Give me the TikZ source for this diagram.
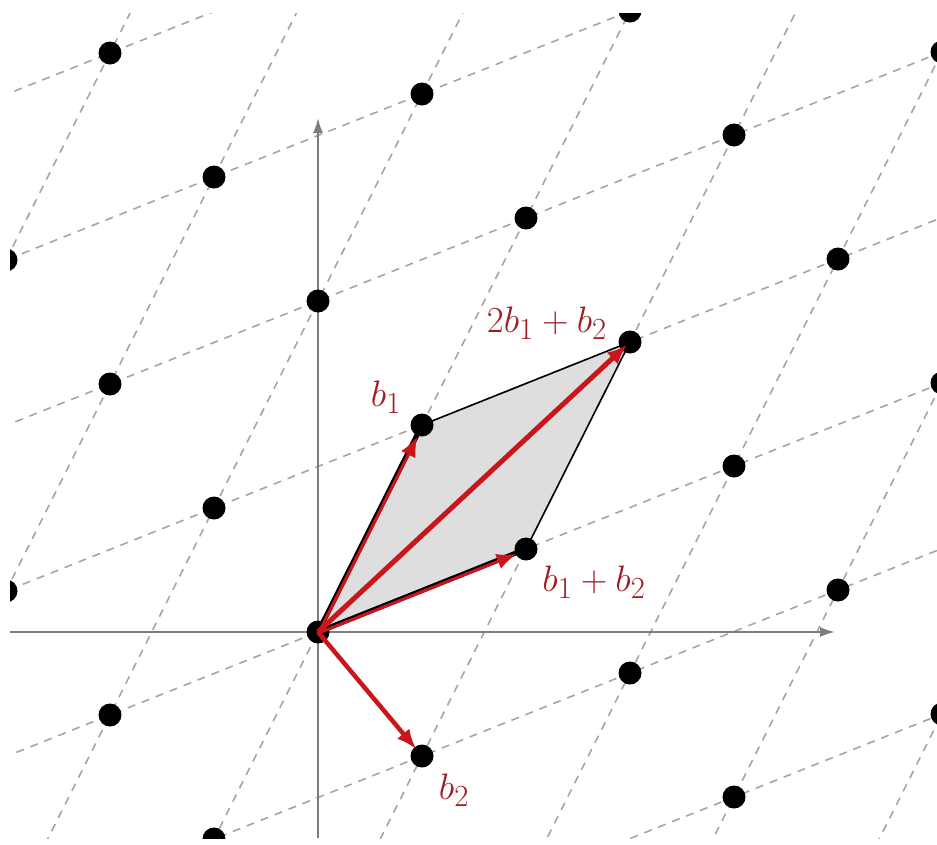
\documentclass[tikz,border=0pt]{standalone}
\usetikzlibrary{arrows.meta}
\definecolor{vecred}{RGB}{200,22,28}
\definecolor{labred}{RGB}{160,28,34}
\definecolor{axgray}{RGB}{125,125,125}
\definecolor{dashgray}{RGB}{165,165,165}
\definecolor{cellgray}{RGB}{222,222,222}
\begin{document}
\begin{tikzpicture}[x=1pt,y=-1pt,
  dot/.style={circle,fill=black,inner sep=0pt,minimum size=23pt},
  gridline/.style={draw=dashgray,line width=1.6pt,dash pattern=on 8pt off 7pt},
  axisline/.style={draw=axgray,line width=2pt,-{Latex[length=15pt,width=10pt]}},
  edge/.style={draw=black,line width=1.6pt},
  vec/.style={draw=vecred,line width=5pt,-{Latex[length=20pt,width=16pt]}},
  lab/.style={text=labred,font=\Huge,scale=1.48,transform shape,inner sep=0pt}]
\useasboundingbox (0,0) rectangle (937,844);
\coordinate (O) at (318,632);
\coordinate (B1) at (422,425);
\coordinate (B2) at (422,756);
\coordinate (S) at (526,549);
\coordinate (D) at (630,342);
\begin{scope}
\clip (10,13) rectangle (945,838);
% dashed lattice lines along b1
\foreach \n in {-5,...,7}
  \draw[gridline] ({318+208*\n-104*6},{632-83*\n+207*6}) -- ({318+208*\n+104*8},{632-83*\n-207*8});
% dashed lattice lines along b1+b2
\foreach \m in {-6,...,8}
  \draw[gridline] ({318+104*\m-208*5},{632-207*\m+83*5}) -- ({318+104*\m+208*7},{632-207*\m-83*7});
% fundamental cell
\fill[cellgray] (O) -- (B1) -- (D) -- (S) -- cycle;
% axes
\coordinate (xa) at (10,632);
\coordinate (xb) at (835,632);
\coordinate (ya) at (318,838);
\coordinate (yb) at (318,118);
\draw[axisline] (xa) -- (xb);
\draw[axisline] (ya) -- (yb);
% cell edges
\draw[edge] (B1) -- (D) -- (S);
\draw[edge,line width=5pt] (O) -- (B1);
\draw[edge,line width=5pt] (O) -- (S);
% lattice points
\foreach \m in {-6,...,8}
  \foreach \n in {-5,...,7}
    \node[dot] (p\m\n) at ({318+104*\m+208*\n},{632-207*\m-83*\n}) {};
\end{scope}
% vectors
\draw[vec,line width=3pt,shorten >=13pt] ([xshift=1.2pt]O) -- ([xshift=1.2pt]B1);
\draw[vec,line width=3pt,shorten >=10pt] ([yshift=-1.2pt]O) -- ([yshift=-1.2pt]S);
\draw[vec,shorten >=4pt] (O) -- (D);
\draw[vec,line width=4.5pt,shorten >=9pt] (O) -- (B2);
% labels
\node[lab] (lb1) at (386,397) {$b_1$};
\node[lab] (ld) at (547,323) {$2b_1+b_2$};
\node[lab] (ls) at (594,582) {$b_1+b_2$};
\node[lab] (lb2) at (454,790) {$b_2$};
\end{tikzpicture}
\end{document}
